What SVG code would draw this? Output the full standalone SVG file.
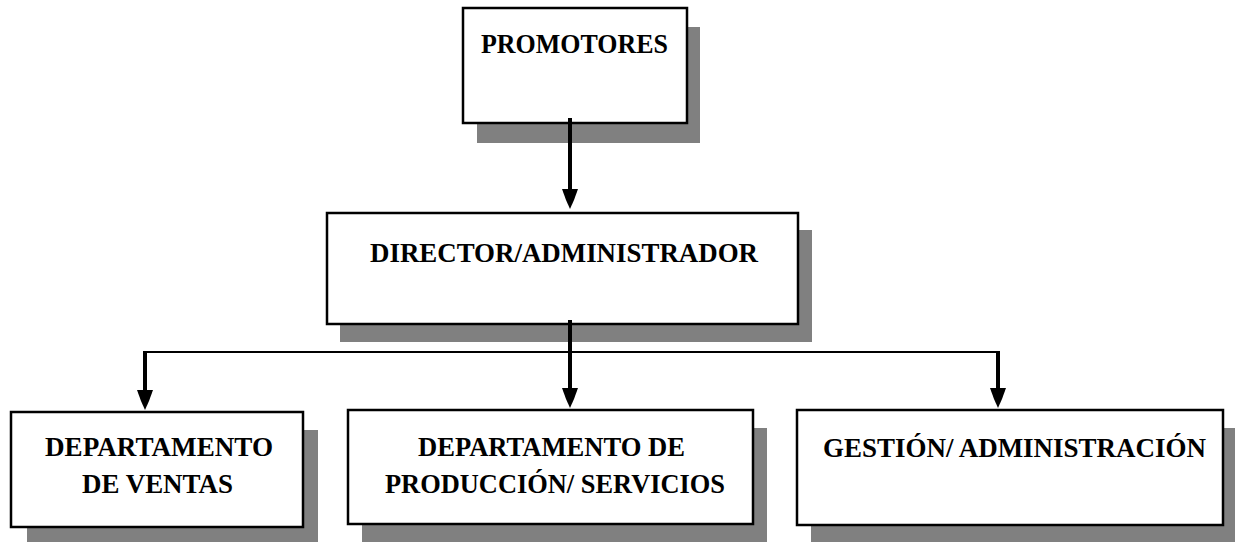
<svg xmlns="http://www.w3.org/2000/svg" width="1235" height="542" viewBox="0 0 1235 542">
<style>
.shadow{fill:#808080}
.box{fill:#fff;stroke:#000;stroke-width:2.5}
.lbl{font-family:"Liberation Serif","Times New Roman",serif;font-weight:bold;font-size:27px;fill:#000}
.conn{stroke:#000;fill:none}
</style>
<defs>
<marker id="ah" markerUnits="userSpaceOnUse" markerWidth="24" markerHeight="20" viewBox="-22 -10 24 20" refX="-8" refY="0" orient="auto">
<path d="M-20,-8 L-20,8 L-9,4 L0,0 L-9,-4 Z" fill="#000"/>
</marker>
</defs>
<g id="promotores">
<rect class="shadow" x="477" y="27" width="223" height="116"/>
<rect class="box" x="463" y="8" width="224" height="115"/>
<text class="lbl" x="481" y="53" textLength="187" lengthAdjust="spacingAndGlyphs">PROMOTORES</text>
</g>
<g id="director">
<rect class="shadow" x="340" y="230" width="472" height="112"/>
<rect class="box" x="327" y="213" width="471" height="111"/>
<text class="lbl" x="370" y="262" textLength="388" lengthAdjust="spacingAndGlyphs">DIRECTOR/ADMINISTRADOR</text>
</g>
<g id="ventas">
<rect class="shadow" x="27" y="430" width="291" height="112"/>
<rect class="box" x="11" y="412" width="292" height="115"/>
<text class="lbl" x="45" y="456" textLength="228" lengthAdjust="spacingAndGlyphs">DEPARTAMENTO</text>
<text class="lbl" x="82" y="493" textLength="151" lengthAdjust="spacingAndGlyphs">DE VENTAS</text>
</g>
<g id="produccion">
<rect class="shadow" x="362" y="428" width="405" height="114"/>
<rect class="box" x="348" y="410" width="405" height="114"/>
<text class="lbl" x="418" y="456" textLength="267" lengthAdjust="spacingAndGlyphs">DEPARTAMENTO DE</text>
<text class="lbl" x="385" y="493" textLength="340" lengthAdjust="spacingAndGlyphs">PRODUCCIÓN/ SERVICIOS</text>
</g>
<g id="gestion">
<rect class="shadow" x="811" y="428" width="424" height="114"/>
<rect class="box" x="797" y="410" width="426" height="115"/>
<text class="lbl" x="823" y="457" textLength="383" lengthAdjust="spacingAndGlyphs">GESTIÓN/ ADMINISTRACIÓN</text>
</g>
<g id="connectors">
<line class="conn" x1="570" y1="118" x2="570" y2="201" stroke-width="4" marker-end="url(#ah)"/>
<line class="conn" x1="570" y1="320" x2="570" y2="400" stroke-width="4" marker-end="url(#ah)"/>
<line class="conn" x1="144" y1="352" x2="999" y2="352" stroke-width="2"/>
<line class="conn" x1="145" y1="351" x2="145" y2="402" stroke-width="4" marker-end="url(#ah)"/>
<line class="conn" x1="998" y1="351" x2="998" y2="400" stroke-width="4" marker-end="url(#ah)"/>
</g>
</svg>
